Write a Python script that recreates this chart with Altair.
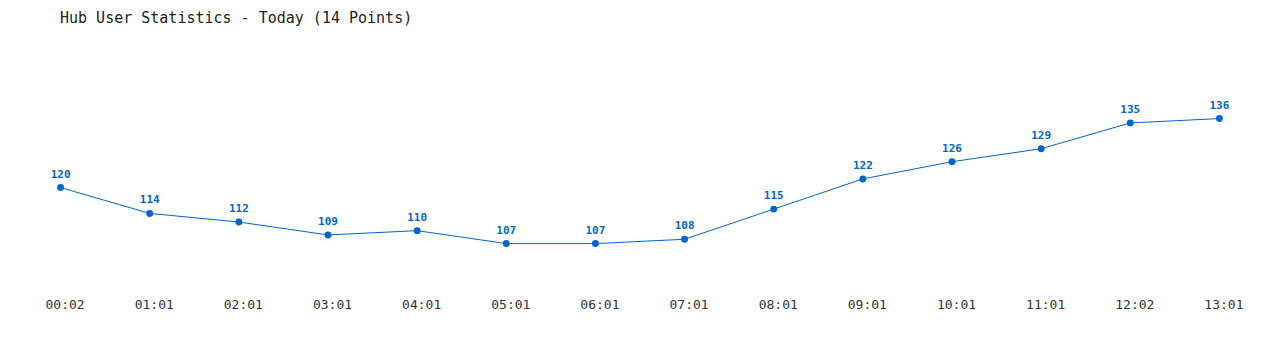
import altair as alt
import pandas as pd

times = ["00:02", "01:01", "02:01", "03:01", "04:01", "05:01", "06:01",
         "07:01", "08:01", "09:01", "10:01", "11:01", "12:02", "13:01"]
users = [120, 114, 112, 109, 110, 107, 107, 108, 115, 122, 126, 129, 135, 136]

df = pd.DataFrame({"time": times, "users": users})

FONT = "DejaVu Sans Mono"
BLUE = "#0066cc"

x = alt.X("time:N", sort=times, title=None,
          scale=alt.Scale(type="point", padding=0.5),
          axis=alt.Axis(labelAngle=0, domain=False, ticks=False, grid=False,
                        labelFont=FONT, labelFontSize=13, labelColor="#333333",
                        labelPadding=7, labelOffset=4))
y = alt.Y("users:Q", title=None, scale=alt.Scale(domain=[96, 154], zero=False, nice=False),
          axis=None)

base = alt.Chart(df).encode(x=x, y=y)

line = base.mark_line(color=BLUE, strokeWidth=1)
pts = base.mark_circle(color=BLUE, size=48, opacity=1)
labels = base.mark_text(color=BLUE, font=FONT, fontSize=11, fontWeight="bold",
                        baseline="bottom", dy=-8).encode(text="users:Q")

chart = (line + pts + labels).properties(
    width=1248, height=250,
    title=alt.TitleParams("Hub User Statistics - Today (14 Points)", anchor="start",
                          font=FONT, fontSize=15, fontWeight="normal", color="#222222",
                          dx=44, offset=15),
    autosize=alt.AutoSizeParams(type="none"),
    padding={"left": 16, "top": 41, "right": 16, "bottom": 60},
    background="white",
).configure_view(stroke=None, strokeWidth=0)

chart.save("out.html", embed_options={"renderer": "svg", "actions": False})
